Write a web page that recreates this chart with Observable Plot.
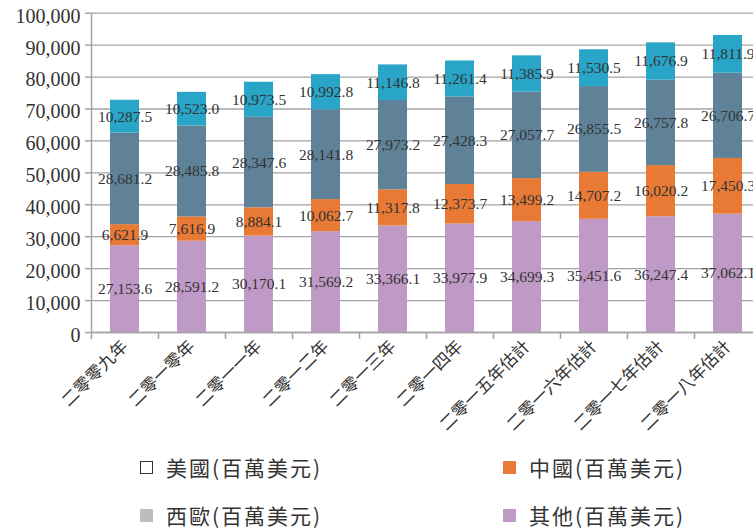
<!DOCTYPE html>
<html>
<head>
<meta charset="utf-8">
<script src="https://cdn.jsdelivr.net/npm/d3@7"></script>
<script src="https://cdn.jsdelivr.net/npm/@observablehq/plot@0.6"></script>
<style>
  html, body { margin: 0; padding: 0; background: #fff; width: 753px; height: 528px; overflow: hidden; }
  #wrap { position: relative; width: 753px; height: 528px; }
  .lg { position: absolute; display: flex; align-items: center; font-family: "Noto Sans CJK TC", sans-serif; font-size: 21px; letter-spacing: 2px; color: #333; white-space: nowrap; }
  .sw { width: 13px; height: 13px; margin-right: 13px; box-sizing: border-box; }
</style>
</head>
<body>
<div id="wrap"><div id="chart"></div></div>
<script>
const years = ["二零零九年", "二零一零年", "二零一一年", "二零一二年", "二零一三年", "二零一四年", "二零一五年估計", "二零一六年估計", "二零一七年估計", "二零一八年估計"];
const seriesNames = ["其他(百萬美元)", "中國(百萬美元)", "西歐(百萬美元)", "美國(百萬美元)"];
const others = [27153.6, 28591.2, 30170.1, 31569.2, 33366.1, 33977.9, 34699.3, 35451.6, 36247.4, 37062.1];
const china = [6621.9, 7616.9, 8884.1, 10062.7, 11317.8, 12373.7, 13499.2, 14707.2, 16020.2, 17450.3];
const westEurope = [28681.2, 28485.8, 28347.6, 28141.8, 27973.2, 27428.3, 27057.7, 26855.5, 26757.8, 26706.7];
const usa = [10287.5, 10523.0, 10973.5, 10992.8, 11146.8, 11261.4, 11385.9, 11530.5, 11676.9, 11811.9];
const yTicks = [0, 10000, 20000, 30000, 40000, 50000, 60000, 70000, 80000, 90000, 100000];
const barColors = ["#c09ac6", "#e87a36", "#5f8299", "#29a5c8"];
const legendItems = [
  {name: "美國(百萬美元)", fill: "#ffffff", border: "#333"},
  {name: "中國(百萬美元)", fill: "#e87a36", border: "#e87a36"},
  {name: "西歐(百萬美元)", fill: "#bdbdc0", border: "#bdbdc0"},
  {name: "其他(百萬美元)", fill: "#c09ac6", border: "#c09ac6"}
];

const seriesValues = [others, china, westEurope, usa];
const data = [];
years.forEach((yr, i) => {
  seriesNames.forEach((s, k) => data.push({year: yr, series: s, value: seriesValues[k][i]}));
});

const fmt = d3.format(",.1f");
const serif = "Liberation Serif";

const chart = Plot.plot({
  width: 753,
  height: 440,
  marginLeft: 91,
  marginRight: 0,
  marginTop: 13,
  marginBottom: 108,
  style: {background: "#fff", overflow: "hidden"},
  x: {type: "band", domain: years, range: [91, 761], paddingInner: 0.567, paddingOuter: 0.2835, label: null},
  y: {domain: [0, 100000], range: [332, 12.7], label: null, axis: null},
  color: {domain: seriesNames, range: barColors},
  marks: [
    Plot.gridY(yTicks, {stroke: "#a3a3a3", strokeOpacity: 1, strokeWidth: 1.3}),
    Plot.barY(data, {x: "year", y: "value", fill: "series", z: "series", order: seriesNames}),
    Plot.ruleX([years[0]], {dx: -33.5, y1: 0, y2: 100000, stroke: "#a3a3a3", strokeWidth: 1.5}),
    Plot.ruleY([0], {stroke: "#a3a3a3", strokeWidth: 1.5}),
    Plot.axisY(yTicks, {tickSize: 6, tickFormat: () => "", stroke: "#a3a3a3", strokeWidth: 1.5}),
    Plot.text(yTicks, {y: d => d, text: d3.format(","), frameAnchor: "left", textAnchor: "end", dx: -11, dy: 3, fontSize: 20, fontFamily: serif, fill: "#333"}),
    Plot.axisX({tickSize: 7, dx: -33.5, tickFormat: () => "", stroke: "#a3a3a3", strokeWidth: 1.5}),
    Plot.axisX({tickSize: 0, tickRotate: -45, tickPadding: 11, fontSize: 17, fontFamily: "Noto Sans CJK TC", fill: "#333"}),
    Plot.text(data, Plot.stackY({x: "year", y: "value", z: "series", order: seriesNames, text: d => fmt(d.value), fontSize: 15.5, fontFamily: serif, fill: "#333"}))
  ]
});
document.getElementById("chart").appendChild(chart);

const wrap = document.getElementById("wrap");
const pos = [[140, 467], [503, 467], [140, 515], [503, 515]];
legendItems.forEach((it, i) => {
  const d = document.createElement("div");
  d.className = "lg";
  d.style.left = pos[i][0] + "px";
  d.style.top = (pos[i][1] - 15) + "px";
  d.style.height = "30px";
  const sw = document.createElement("span");
  sw.className = "sw";
  sw.style.background = it.fill;
  sw.style.border = "1.3px solid " + it.border;
  const t = document.createElement("span");
  t.textContent = it.name;
  d.appendChild(sw);
  d.appendChild(t);
  wrap.appendChild(d);
});
</script>
</body>
</html>
